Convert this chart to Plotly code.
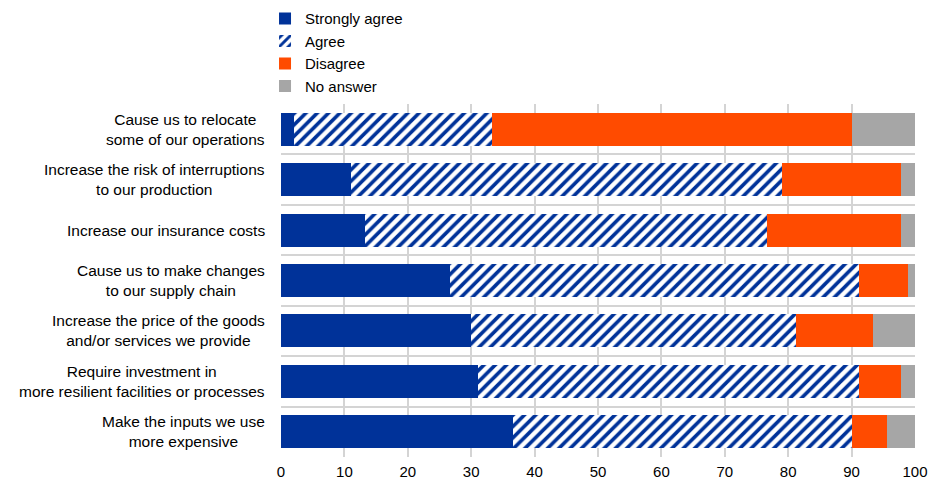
import plotly.graph_objects as go

categories = [
    "Cause us to relocate<br>some of our operations",
    "Increase the risk of interruptions<br>to our production",
    "Increase our insurance costs",
    "Cause us to make changes<br>to our supply chain",
    "Increase the price of the goods<br>and/or services we provide",
    "Require investment in<br>more resilient facilities or processes",
    "Make the inputs we use<br>more expensive",
]
strongly_agree = [2.1, 11.1, 13.2, 26.6, 30.0, 31.1, 36.6]
agree = [31.2, 67.9, 63.5, 64.6, 51.2, 60.1, 53.5]
disagree = [56.8, 18.8, 21.1, 7.7, 12.2, 6.6, 5.5]
no_answer = [9.9, 2.2, 2.2, 1.1, 6.6, 2.2, 4.4]
x_ticks = [0, 10, 20, 30, 40, 50, 60, 70, 80, 90, 100]

BLUE = "#003299"
ORANGE = "#FF4B00"
GREY = "#A6A6A6"
FONT = "Liberation Sans, Arial, sans-serif"

fig = go.Figure()
fig.add_trace(go.Bar(y=categories, x=strongly_agree, orientation="h", name="Strongly agree",
                     marker=dict(color=BLUE, line=dict(width=0))))
fig.add_trace(go.Bar(y=categories, x=agree, orientation="h", name="Agree",
                     marker=dict(color=BLUE, line=dict(width=0),
                                 pattern=dict(shape="/", fgcolor=BLUE, bgcolor="white",
                                              size=8, solidity=0.45, fillmode="replace"))))
fig.add_trace(go.Bar(y=categories, x=disagree, orientation="h", name="Disagree",
                     marker=dict(color=ORANGE, line=dict(width=0))))
fig.add_trace(go.Bar(y=categories, x=no_answer, orientation="h", name="No answer",
                     marker=dict(color=GREY, line=dict(width=0))))

for c in categories:
    fig.add_annotation(x=0, xref="paper", y=c, yref="y", text=c, showarrow=False,
                       xanchor="right", align="center", xshift=-14,
                       font=dict(family=FONT, size=15.5, color="#000000"))

# the page places the figure 8px from the top-left corner (default body margin)
fig.update_layout(
    barmode="stack",
    bargap=0.345,
    width=928, height=473,
    margin=dict(l=273, r=21, t=96, b=24, autoexpand=False),
    paper_bgcolor="white", plot_bgcolor="white",
    font=dict(family=FONT, size=15.5, color="#000000"),
    showlegend=True,
    legend=dict(x=-0.0252, y=1.005, xanchor="left", yanchor="bottom", yref="paper",
                orientation="v", traceorder="normal", bgcolor="rgba(0,0,0,0)",
                font=dict(family=FONT, size=15), tracegroupgap=0, itemsizing="constant"),
    xaxis=dict(range=[0, 100], tickvals=x_ticks, showgrid=True, gridcolor="#D4D4D4",
               gridwidth=1.5, zeroline=False, showline=False, ticks="",
               ticklabelstandoff=4, tickfont=dict(family=FONT, size=15)),
    yaxis=dict(categoryorder="array", categoryarray=categories, autorange="reversed",
               tickson="boundaries", showgrid=True, gridcolor="#D4D4D4", gridwidth=1.5,
               showticklabels=False, ticks="", zeroline=False, showline=False),
)

fig.write_html("out.html")
